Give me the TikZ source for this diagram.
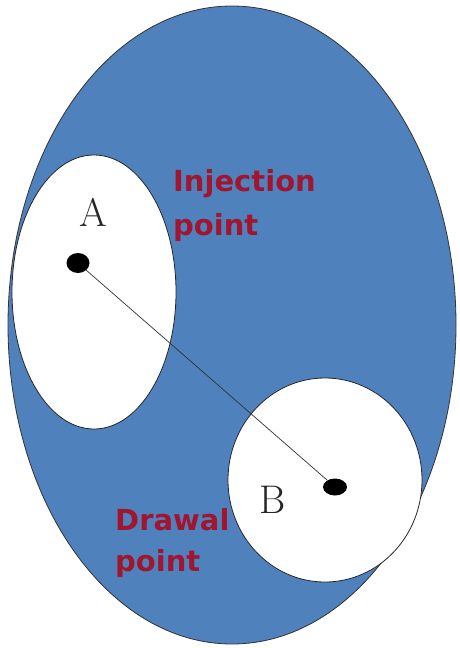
\documentclass[tikz,border=0pt]{standalone}
\usepackage{fontspec}
\usepackage{tikz}
\usetikzlibrary{shapes.geometric}
\newfontfamily\labelfont{DejaVu Sans}
\definecolor{basin}{HTML}{4F81BD}
\definecolor{wellred}{HTML}{A1152E}
\tikzset{
  region/.style={draw=black!80, line width=0.8pt},
  wellzone/.style={fill=white, draw=black!85, line width=0.8pt},
  dot/.style={ellipse, fill=black, inner sep=0pt},
  ptname/.style={font=\fontsize{40}{44}\selectfont, text=black!85},
  tag/.style={anchor=north west, align=left, text=wellred,
    font=\labelfont\bfseries\fontsize{29}{38.5}\selectfont, inner sep=0pt},
}

\begin{document}
\begin{tikzpicture}[x=1pt, y=-1pt]
  \useasboundingbox (0,0) rectangle (459,648);

  % Outer region
  \filldraw[region, fill=basin] (232,325) ellipse [x radius=224, y radius=319];

  % Zones round the two points
  \filldraw[wellzone] (94,292) ellipse [x radius=82, y radius=137];
  \filldraw[wellzone] (325,480) ellipse [x radius=97, y radius=102];

  % Points
  \node[dot, minimum width=23pt, minimum height=20pt] (ptA) at (78,263) {};
  \node[dot, minimum width=24pt, minimum height=17pt] (ptB) at (335,487) {};
  \draw[black!80, line width=0.7pt] (ptA) -- (ptB);

  \node[ptname] (nameA) at (93,212) {A};
  \node[ptname] (nameB) at (273,500) {B};

  % Labels
  \node[tag] (inj) at (173,169) {Injection\\[6pt]point};
  \node[tag] (drw) at (115,508) {Drawal\\[3pt]point};
\end{tikzpicture}
\end{document}
